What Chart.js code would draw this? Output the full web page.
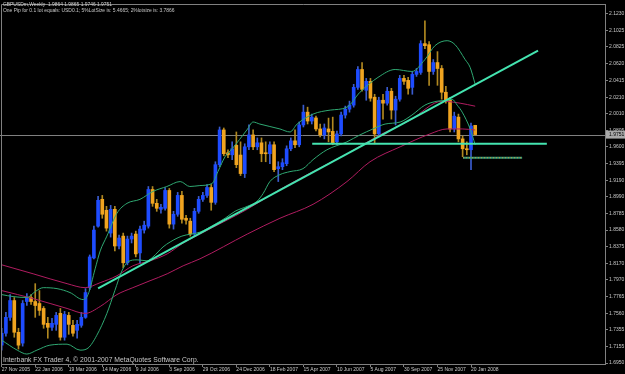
<!DOCTYPE html>
<html>
<head>
<meta charset="utf-8">
<script src="https://cdn.jsdelivr.net/npm/chart.js@4.4.0/dist/chart.umd.min.js"></script>
<style>
  html, body { margin: 0; padding: 0; background: #000; }
  canvas { display: block; }
</style>
</head>
<body>
<canvas id="myChart" width="625" height="374"></canvas>
<script>
// GBPUSDm weekly candles, one per week from 27 Nov 2005
const opens = [
  1.7169, 1.7315, 1.7510, 1.7716, 1.7327, 1.7194, 1.7704, 1.7753, 1.7704, 1.7680,
  1.7619, 1.7437, 1.7388, 1.7424, 1.7559, 1.7266, 1.7534, 1.7412, 1.7351, 1.7412,
  1.7510, 1.7874, 1.8239, 1.8628, 1.8957, 1.8823, 1.8543, 1.8835, 1.8385, 1.8506,
  1.8179, 1.8470, 1.8531, 1.8300, 1.8580, 1.8628, 1.9078, 1.8908, 1.8835, 1.8847,
  1.9066, 1.8653, 1.8774, 1.9005, 1.8725, 1.8689, 1.8531, 1.8810, 1.8957, 1.9005,
  1.9102, 1.8920, 1.9382, 1.9808, 1.9528, 1.9503, 1.9620, 1.9500, 1.9273, 1.9601,
  1.9747, 1.9601, 1.9650, 1.9528, 1.9516, 1.9626, 1.9333, 1.9357, 1.9394, 1.9577,
  1.9674, 1.9626, 1.9869, 2.0026, 1.9917, 1.9955, 1.9820, 1.9747, 1.9820, 1.9790,
  1.9662, 1.9759, 1.9990, 2.0063, 2.0112, 2.0330, 2.0549, 2.0294, 2.0404, 2.0209,
  1.9759, 2.0172, 2.0136, 2.0282, 2.0051, 2.0185, 2.0440, 2.0416, 2.0330, 2.0489,
  2.0513, 2.0866, 2.0853, 2.0525, 2.0634, 2.0561, 2.0270, 2.0172, 1.9820, 1.9965,
  1.9698, 1.9577, 1.9565, 1.9864
];
const highs = [
  1.7376, 1.7571, 1.7789, 1.7753, 1.7376, 1.7716, 1.7802, 1.7789, 1.7923, 1.7838,
  1.7643, 1.7510, 1.7498, 1.7571, 1.7619, 1.7583, 1.7571, 1.7473, 1.7473, 1.7571,
  1.7862, 1.8275, 1.8628, 1.8993, 1.9005, 1.8871, 1.8883, 1.8871, 1.8518, 1.8543,
  1.8506, 1.8543, 1.8567, 1.8628, 1.8689, 1.9114, 1.9114, 1.8957, 1.8896, 1.9102,
  1.9090, 1.8810, 1.9042, 1.9054, 1.8761, 1.8725, 1.8847, 1.8993, 1.9042, 1.9139,
  1.9139, 1.9418, 1.9844, 1.9832, 1.9565, 1.9662, 1.9783, 1.9662, 1.9638, 1.9869,
  1.9808, 1.9710, 1.9710, 1.9662, 1.9662, 1.9662, 1.9418, 1.9455, 1.9613, 1.9710,
  1.9808, 1.9905, 2.0112, 2.0087, 2.0002, 1.9977, 1.9881, 1.9881, 1.9953, 1.9965,
  1.9795, 2.0026, 2.0100, 2.0161, 2.0367, 2.0585, 2.0634, 2.0440, 2.0440, 2.0245,
  2.0209, 2.0245, 2.0330, 2.0318, 2.0221, 2.0477, 2.0477, 2.0452, 2.0525, 2.0561,
  2.0902, 2.1145, 2.0890, 2.0671, 2.0768, 2.0598, 2.0343, 2.0209, 2.0026, 2.0002,
  1.9735, 1.9662, 1.9893, 1.9865
];
const lows = [
  1.7108, 1.7278, 1.7473, 1.7266, 1.7121, 1.7157, 1.7655, 1.7667, 1.7510, 1.7534,
  1.7376, 1.7254, 1.7351, 1.7351, 1.7230, 1.7230, 1.7302, 1.7278, 1.7254, 1.7388,
  1.7498, 1.7850, 1.8227, 1.8616, 1.8725, 1.8567, 1.8494, 1.8324, 1.8349, 1.8118,
  1.8154, 1.8422, 1.8251, 1.8179, 1.8543, 1.8604, 1.8871, 1.8810, 1.8786, 1.8823,
  1.8604, 1.8592, 1.8749, 1.8665, 1.8653, 1.8506, 1.8506, 1.8786, 1.8932, 1.8981,
  1.8823, 1.8896, 1.9357, 1.9491, 1.9467, 1.9443, 1.9345, 1.9248, 1.9224, 1.9565,
  1.9565, 1.9565, 1.9418, 1.9418, 1.9394, 1.9297, 1.9175, 1.9321, 1.9369, 1.9553,
  1.9589, 1.9601, 1.9844, 1.9881, 1.9881, 1.9795, 1.9722, 1.9698, 1.9662, 1.9626,
  1.9626, 1.9735, 1.9953, 2.0026, 2.0087, 2.0306, 2.0282, 2.0172, 2.0160, 1.9638,
  1.9722, 1.9941, 2.0112, 1.9941, 1.9869, 2.0160, 2.0367, 2.0245, 2.0245, 2.0464,
  2.0489, 2.0805, 2.0355, 2.0489, 2.0355, 2.0185, 2.0136, 1.9783, 1.9783, 1.9662,
  1.9479, 1.9503, 1.9321, 1.9746
];
const closes = [
  1.7315, 1.7510, 1.7716, 1.7327, 1.7169, 1.7680, 1.7753, 1.7704, 1.7655, 1.7595,
  1.7424, 1.7388, 1.7437, 1.7534, 1.7266, 1.7546, 1.7424, 1.7315, 1.7424, 1.7510,
  1.7814, 1.8251, 1.8580, 1.8945, 1.8774, 1.8604, 1.8835, 1.8385, 1.8482, 1.8179,
  1.8470, 1.8506, 1.8288, 1.8592, 1.8640, 1.9078, 1.8908, 1.8847, 1.8859, 1.9066,
  1.8653, 1.8774, 1.9005, 1.8713, 1.8701, 1.8531, 1.8810, 1.8957, 1.9005, 1.9102,
  1.8920, 1.9382, 1.9808, 1.9516, 1.9503, 1.9577, 1.9382, 1.9273, 1.9601, 1.9747,
  1.9601, 1.9650, 1.9516, 1.9516, 1.9626, 1.9321, 1.9357, 1.9406, 1.9577, 1.9674,
  1.9626, 1.9869, 2.0026, 1.9917, 1.9965, 1.9820, 1.9747, 1.9832, 1.9783, 1.9650,
  1.9759, 1.9990, 2.0063, 2.0112, 2.0330, 2.0549, 2.0306, 2.0404, 2.0197, 1.9759,
  2.0172, 2.0136, 2.0282, 2.0051, 2.0185, 2.0440, 2.0404, 2.0318, 2.0489, 2.0525,
  2.0866, 2.0841, 2.0525, 2.0634, 2.0561, 2.0270, 2.0172, 1.9820, 1.9977, 1.9698,
  1.9577, 1.9565, 1.9856, 1.9751
];

// date labels, one every 8 weeks
const dateLabels = [
  '27 Nov 2005', '22 Jan 2006', '19 Mar 2006', '14 May 2006', '9 Jul 2006',
  '3 Sep 2006', '29 Oct 2006', '24 Dec 2006', '18 Feb 2007', '15 Apr 2007',
  '10 Jun 2007', '5 Aug 2007', '30 Sep 2007', '25 Nov 2007', '20 Jan 2008'
];
const priceTicks = [
  2.1230, 2.1025, 2.0825, 2.0620, 2.0415, 2.0210, 2.0010, 1.9805, 1.9600, 1.9395,
  1.9190, 1.8990, 1.8785, 1.8580, 1.8375, 1.8170, 1.7970, 1.7765, 1.7560, 1.7355,
  1.7155, 1.6950
];
const priceMin = 1.6938;
const priceMax = 2.1352;
const bidPrice = 1.9751;

// indicator lines, [week, price]
const bbUpper = [
  [0, 1.7789], [2.7, 1.7765], [6.0, 1.7753], [8.0, 1.7826], [9.9, 1.7874], [13.2, 1.7862],
  [16.3, 1.7814], [19.4, 1.7728], [20.6, 1.7789], [22.3, 1.8105], [23.5, 1.8324],
  [25.1, 1.8506], [27.5, 1.8786], [29.9, 1.8908], [33.0, 1.8957], [36.1, 1.9054],
  [39.4, 1.9114], [42.6, 1.9175], [44.9, 1.9114], [47.3, 1.9126], [50.2, 1.9151],
  [51.6, 1.9297], [53.3, 1.9479], [55.0, 1.9576], [58.5, 1.9807], [60.0, 1.9905],
  [61.6, 1.9880], [66.4, 1.9820], [68.8, 1.9783], [70.5, 1.9880], [74.3, 2.0002],
  [78.4, 2.0051], [82.4, 2.0087], [85.5, 2.0270], [89.8, 2.0452], [93.9, 2.0549],
  [97.9, 2.0525], [101.0, 2.0671], [103.4, 2.0841], [106.3, 2.0902], [108.2, 2.0853],
  [110.6, 2.0671], [111.8, 2.0574], [113.0, 2.0367]
];
const bbLower = [
  [0, 1.7230], [3.7, 1.7108], [6.0, 1.7060], [8.4, 1.7108], [11.5, 1.7169], [15.6, 1.7181],
  [18.7, 1.7108], [20.6, 1.7133], [22.7, 1.7290], [25.1, 1.7558], [27.0, 1.7838],
  [28.7, 1.8081], [30.1, 1.8190], [32.3, 1.8215], [34.7, 1.8203], [36.1, 1.8251],
  [38.5, 1.8373], [40.2, 1.8434], [43.0, 1.8506], [47.3, 1.8555], [50.9, 1.8652],
  [53.3, 1.8725], [55.7, 1.8811], [58.6, 1.8871], [60.9, 1.8932], [62.4, 1.9029],
  [64.0, 1.9175], [66.4, 1.9260], [68.8, 1.9297], [71.9, 1.9333], [74.3, 1.9443],
  [77.6, 1.9564], [82.4, 1.9662], [85.5, 1.9747], [88.6, 1.9820], [91.5, 1.9880],
  [95.1, 1.9905], [97.9, 1.9990], [101.0, 2.0112], [103.9, 2.0160], [106.3, 2.0172],
  [107.5, 2.0184], [108.7, 2.0112], [109.9, 2.0026], [111.8, 1.9820], [113.0, 1.9625]
];
const maFast = [
  [0, 1.8154], [7.5, 1.8044], [15.6, 1.7923], [19.9, 1.7874], [23.5, 1.7935],
  [27.5, 1.8020], [31.3, 1.8142], [35.4, 1.8203], [39.5, 1.8288], [43.3, 1.8421],
  [47.3, 1.8531], [58.6, 1.8835], [66.4, 1.9078], [74.3, 1.9297], [82.4, 1.9516],
  [90.3, 1.9747], [97.5, 1.9929], [105.1, 2.0160], [109.4, 2.0136], [113.0, 2.0099]
];
const maSlow = [
  [0, 1.7838], [7.5, 1.7740], [15.6, 1.7619], [19.9, 1.7558], [23.5, 1.7643],
  [27.5, 1.7789], [31.3, 1.7874], [35.4, 1.7959], [39.5, 1.8044], [43.3, 1.8142],
  [47.3, 1.8227], [58.6, 1.8531], [66.4, 1.8725], [74.3, 1.8896], [82.4, 1.9175],
  [87.9, 1.9418], [95.1, 1.9601], [102.2, 1.9759], [106.3, 1.9820], [109.9, 1.9820],
  [113.0, 1.9807]
];

// hand drawn objects
const trendUp = [[23.0, 1.7866], [128.0, 2.0780]];
const supportLine = [[74.1, 1.9637], [130.1, 1.9637]];
const lowLine = [[110.1, 1.9467], [124.2, 1.9467]];

const UP_BODY = '#1e4cff';
const DOWN_BODY = '#f0a420';
const UP_WICK = '#3a5cd0';
const DOWN_WICK = '#b08820';

const toXY = pts => pts.map(([w, p]) => ({ x: w, y: p }));

function fitText(ctx, text, x, y, width, family, color) {
    ctx.font = '10px ' + family;
    const size = 10 * width / ctx.measureText(text).width;
    ctx.font = size.toFixed(2) + 'px ' + family;
    ctx.fillStyle = color;
    ctx.textAlign = 'left';
    ctx.textBaseline = 'middle';
    ctx.fillText(text, x, y);
}

// black background, frame and the bid line
const backdrop = {
    id: 'backdrop',
    beforeDraw(chart) {
        const ctx = chart.ctx;
        ctx.save();
        ctx.fillStyle = '#000';
        ctx.fillRect(0, 0, chart.width, chart.height);
        ctx.restore();
    },
    beforeDatasetsDraw(chart) {
        const { ctx, chartArea } = chart;
        const y = Math.round(chart.scales.y.getPixelForValue(bidPrice)) + 0.5;
        ctx.save();
        ctx.strokeStyle = '#808080';
        ctx.lineWidth = 1;
        ctx.beginPath();
        ctx.moveTo(0, y);
        ctx.lineTo(chartArea.right, y);
        ctx.stroke();
        ctx.restore();
    },
    afterDraw(chart) {
        const { ctx, chartArea } = chart;
        ctx.save();
        ctx.strokeStyle = '#808080';
        ctx.lineWidth = 1;
        ctx.beginPath();
        ctx.moveTo(chartArea.left + 0.5, chartArea.bottom);
        ctx.lineTo(chartArea.left + 0.5, chartArea.top + 0.5);
        ctx.lineTo(chartArea.right, chartArea.top + 0.5);
        ctx.stroke();

        // bid price box on the axis
        const y = chart.scales.y.getPixelForValue(bidPrice);
        ctx.fillStyle = '#a8a8a8';
        ctx.fillRect(chartArea.right + 1, y - 4, 20, 8);
        ctx.fillStyle = '#000';
        ctx.font = '5px "Liberation Sans"';
        ctx.textAlign = 'left';
        ctx.textBaseline = 'middle';
        ctx.fillText(bidPrice.toFixed(4), chartArea.right + 4, y);

        fitText(ctx, 'GBPUSDm,Weekly  1.9864 1.9865 1.9746 1.9751', 3, 5, 109, '"Liberation Sans"', '#d0d0d0');
        fitText(ctx, 'One Pip for 0.1 lot equals: USD0.1; 5%LotSize is: 5.4665; 2%lotsize is: 3.7866', 3, 11, 172, '"Liberation Sans"', '#c8c8c8');
        fitText(ctx, 'Interbank FX Trader 4, \u00a9 2001-2007 MetaQuotes Software Corp.', 3, 360, 196, '"Liberation Sans"', '#c8c8c8');
        ctx.restore();
    }
};

const lineSet = (data, color, width, order, extra) => Object.assign({
    type: 'line',
    data: toXY(data),
    borderColor: color,
    borderWidth: width,
    pointRadius: 0,
    fill: false,
    order: order
}, extra || {});

const makeChart = () => {
    const ctx = document.getElementById('myChart');
    const bull = opens.map((o, i) => closes[i] >= o);

    new Chart(ctx, {
        type: 'bar',
        data: {
            datasets: [
                lineSet(trendUp, '#44e4b0', 2, 1),
                lineSet(supportLine, '#44e4b0', 2, 1),
                lineSet(lowLine, '#3a9a78', 2, 1),
                lineSet(lowLine, '#c0a040', 1, 0, { borderDash: [1, 2] }),
                lineSet(bbUpper, '#2fa872', 1, 2, { cubicInterpolationMode: 'monotone' }),
                lineSet(bbLower, '#2fa872', 1, 2, { cubicInterpolationMode: 'monotone' }),
                lineSet(maFast, '#b01c60', 1, 3, { cubicInterpolationMode: 'monotone' }),
                lineSet(maSlow, '#b01c60', 1, 3, { cubicInterpolationMode: 'monotone' }),
                {
                    label: 'body',
                    data: opens.map((o, i) => ({ x: i, y: [o, closes[i]] })),
                    backgroundColor: bull.map(b => b ? UP_BODY : DOWN_BODY),
                    barThickness: 3,
                    minBarLength: 1,
                    grouped: false,
                    order: 4
                },
                {
                    label: 'wick',
                    data: lows.map((l, i) => ({ x: i, y: [l, highs[i]] })),
                    backgroundColor: bull.map(b => b ? UP_WICK : DOWN_WICK),
                    barThickness: 1,
                    grouped: false,
                    order: 5
                }
            ]
        },
        options: {
            responsive: false,
            animation: false,
            devicePixelRatio: 1,
            layout: { padding: { left: 1, top: 1, right: 0, bottom: 0 } },
            plugins: { legend: { display: false }, tooltip: { enabled: false } },
            scales: {
                x: {
                    type: 'linear',
                    min: -0.17,
                    max: 143.98,
                    offset: false,
                    grid: { drawOnChartArea: false, offset: false, tickLength: 3, color: '#808080' },
                    border: { color: '#808080' },
                    ticks: {
                        align: 'start',
                        autoSkip: false,
                        maxRotation: 0,
                        padding: 0,
                        color: '#c8c8c8',
                        font: { family: 'Liberation Sans', size: 5 },
                        callback: (v, i) => dateLabels[i]
                    },
                    afterBuildTicks: s => { s.ticks = dateLabels.map((_, k) => ({ value: k * 8 })); },
                    afterFit: s => { s.height = 10; }
                },
                y: {
                    type: 'linear',
                    position: 'right',
                    min: priceMin,
                    max: priceMax,
                    beginAtZero: false,
                    grid: { drawOnChartArea: false, tickLength: 3, color: '#808080' },
                    border: { color: '#808080' },
                    ticks: {
                        autoSkip: false,
                        padding: 1,
                        color: '#c8c8c8',
                        font: { family: 'Liberation Sans', size: 5 },
                        callback: v => v.toFixed(4)
                    },
                    afterBuildTicks: s => { s.ticks = priceTicks.map(v => ({ value: v })); },
                    afterFit: s => { s.width = 20; }
                }
            }
        },
        plugins: [backdrop]
    });
};

makeChart();
</script>
</body>
</html>
